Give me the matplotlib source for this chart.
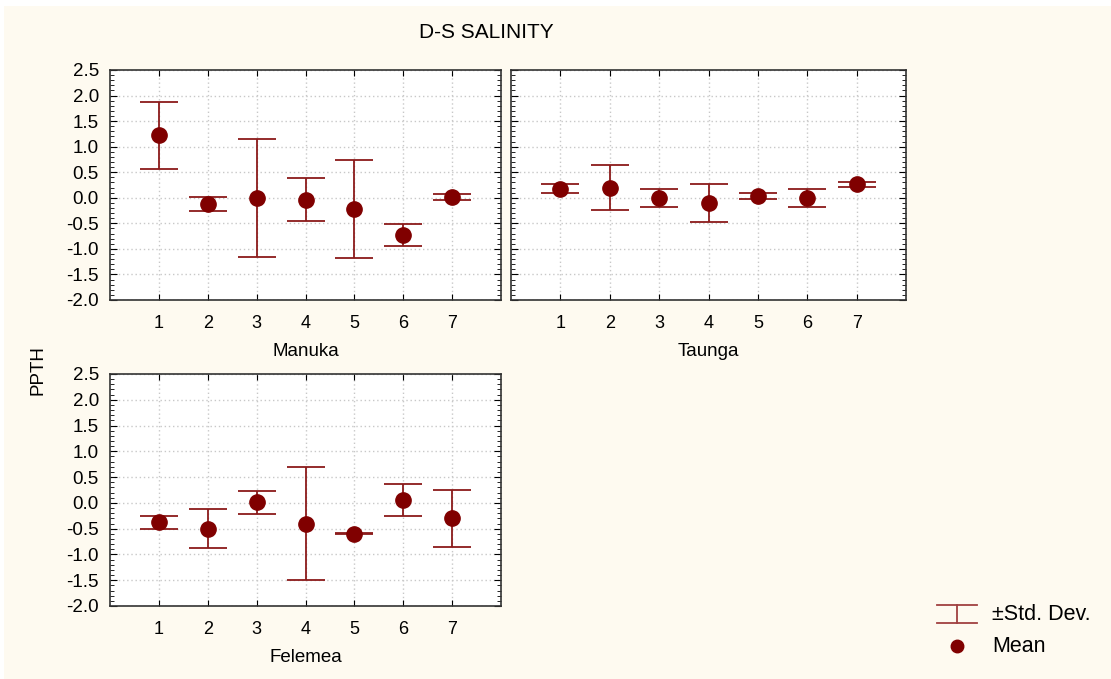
import matplotlib
matplotlib.use("Agg")
import matplotlib.pyplot as plt
from matplotlib.lines import Line2D
from matplotlib.patches import Rectangle
from matplotlib.ticker import MultipleLocator

plt.rcParams['font.family'] = ['Liberation Sans', 'DejaVu Sans']

sites = ["Manuka", "Taunga", "Felemea"]
stations = [1, 2, 3, 4, 5, 6, 7]

manuka_mean = [1.22, -0.12, 0.0, -0.04, -0.22, -0.72, 0.015]
manuka_sd = [0.66, 0.13, 1.155, 0.42, 0.95, 0.215, 0.05]

taunga_mean = [0.18, 0.20, 0.0, -0.10, 0.04, 0.0, 0.26]
taunga_sd = [0.085, 0.445, 0.175, 0.367, 0.06, 0.175, 0.05]

felemea_mean = [-0.38, -0.50, 0.015, -0.40, -0.60, 0.06, -0.30]
felemea_sd = [0.13, 0.38, 0.225, 1.105, 0.012, 0.31, 0.55]

means = [manuka_mean, taunga_mean, felemea_mean]
sds = [manuka_sd, taunga_sd, felemea_sd]

W, H = 1111, 679
fig = plt.figure(figsize=(W / 100, H / 100), dpi=100, facecolor="white")
cream = "#fefaf0"
fig.patches.append(Rectangle((4 / W, 0), 1 - 4 / W, 1 - 6 / H,
                             transform=fig.transFigure, facecolor=cream,
                             edgecolor="none", zorder=-10))

def px_axes(left, top, right, bottom):
    return fig.add_axes([left / W, 1 - bottom / H, (right - left) / W, (bottom - top) / H])

boxes = [(110, 70, 501, 300), (511, 70, 906, 300), (110, 374, 501, 606)]

mark_col = "#800000"
bar_col = "#8b1a1a"

for name, box, m, s in zip(sites, boxes, means, sds):
    ax = px_axes(*box)
    ax.set_facecolor("white")
    ax.errorbar(stations, m, yerr=s, fmt="o", color=mark_col, ms=11,
                ecolor=bar_col, elinewidth=1.3, capsize=14, capthick=1.3,
                zorder=3)
    ax.set_xlim(0, 8)
    ax.set_ylim(-2.0, 2.5)
    ax.set_xticks(stations)
    ax.yaxis.set_major_locator(MultipleLocator(0.5))
    ax.yaxis.set_minor_locator(MultipleLocator(0.1))
    ax.grid(True, which="major", color="#c8c8c8", linestyle=(0, (1, 2)), linewidth=1)
    ax.tick_params(which="both", direction="in", top=True, right=True, labelsize=13)
    ax.tick_params(axis="x", which="major", length=4, pad=11)
    ax.tick_params(axis="y", which="major", length=5, pad=8, labelsize=13.5)
    ax.tick_params(axis="y", which="minor", length=3)
    ax.set_yticks([-2.0, -1.5, -1.0, -0.5, 0.0, 0.5, 1.0, 1.5, 2.0, 2.5])
    ax.set_yticklabels([f"{v:.1f}" for v in ax.get_yticks()])
    if name == "Taunga":
        ax.tick_params(axis="y", labelleft=False)
    ax.set_xlabel(name, fontsize=13.5, labelpad=8)
    for sp in ax.spines.values():
        sp.set_color("#333333")
        sp.set_linewidth(1.2)

fig.text(486 / W, 1 - 33 / H, "D-S SALINITY", ha="center", va="center", fontsize=15)
fig.text(38 / W, 1 - 370 / H, "PPTH", ha="center", va="center", rotation=90, fontsize=13.5)

# legend drawn by hand: error bar symbol and mean dot
def fx(x):
    return x / W

def fy(y):
    return 1 - y / H

lc = "#a04040"
fig.add_artist(Line2D([fx(937), fx(977)], [fy(605), fy(605)], color=lc, lw=1.3))
fig.add_artist(Line2D([fx(937), fx(977)], [fy(623), fy(623)], color=lc, lw=1.3))
fig.add_artist(Line2D([fx(957), fx(957)], [fy(605), fy(623)], color=lc, lw=1.3))
fig.add_artist(Line2D([fx(957)], [fy(646)], marker="o", ms=9, color=mark_col, lw=0))
fig.text(fx(992), fy(614), "\u00b1Std. Dev.", va="center", ha="left", fontsize=15.5)
fig.text(fx(992), fy(646), "Mean", va="center", ha="left", fontsize=15.5)

fig.savefig("out.png", dpi=100, facecolor=fig.get_facecolor())
